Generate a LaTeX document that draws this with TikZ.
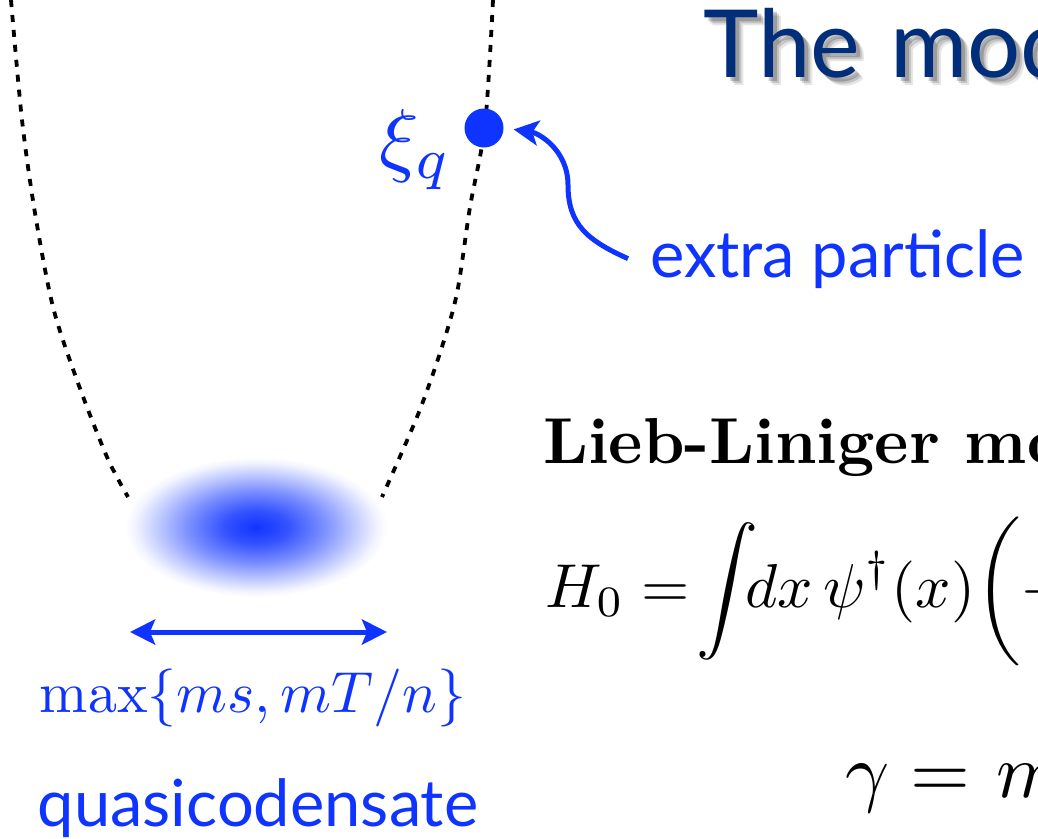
\documentclass[tikz,border=0pt]{standalone}
\usepackage{amsmath}
\usepackage{graphicx}
\usepackage{fontspec}
\setsansfont{Lato}
\newfontfamily\titlefont{Lato}[WordSpace=1.25]
\usetikzlibrary{arrows.meta, shapes.geometric}

\definecolor{qblue}{RGB}{16,52,255}
\definecolor{titleblue}{RGB}{0,46,122}
\pgfdeclareradialshading{blob}{\pgfpoint{0bp}{0bp}}{%
  color(0bp)=(qblue); color(6bp)=(qblue!85); color(13bp)=(qblue!55);
  color(19bp)=(qblue!25); color(23bp)=(qblue!6); color(25bp)=(white); color(50bp)=(white)}

\begin{document}
\begin{tikzpicture}[x=1pt, y=-1pt,
  well/.style={dash pattern=on 7pt off 8pt, line width=3.8pt},
  blue text/.style={text=qblue, inner sep=0pt},
  sans big/.style={font=\sffamily\fontsize{65}{72}\selectfont},
  title text/.style={font=\titlefont\fontsize{94}{102}\selectfont, inner sep=0pt, anchor=base west},
  curvy/.style={qblue, line width=5pt, -{Stealth[length=25pt, width=25pt, inset=6pt]}},
  widtharrow/.style={qblue, line width=5pt,
    {Stealth[length=25pt, width=25pt, inset=5pt]}-{Stealth[length=25pt, width=25pt, inset=5pt]}}]
  \useasboundingbox (0,0) rectangle (1038,838);
  \clip (0,0) rectangle (1038,838);
  % Titel med skygge
  \foreach \s/\o in {4/0.2, 6/0.15, 8/0.1}
    \node[title text, text=black, opacity=\o] (shadow\s) at (703+\s,77+\s) {The mod};
  \node[title text, text=titleblue] (title) at (703,77) {The mod};
  % Potensial (stiplet)
  \draw[well] plot[smooth] coordinates {(11,0) (22,120) (35,213) (53,307) (78,383) (107,457) (128,497)};
  \draw[well] plot[smooth] coordinates {(493,0) (485,125) (470,207) (457,293) (440,353) (417,417) (382,497)};
  % Kvasikondensat
  \node[ellipse, minimum width=262pt, minimum height=140pt, shading=blob] (cond) at (256,527) {};
  \coordinate (wl) at (130,632);
  \coordinate (wr) at (387,632);
  \draw[widtharrow] (wl) -- (wr);
  \node[blue text] (width) at (253,698) {\scalebox{5.8}{$\max\{ms, mT/n\}$}};
  \node[blue text, sans big, anchor=base] (qc) at (258,826) {quasicodensate};
  % Ekstra partikkel
  \node[circle, fill=qblue, minimum size=39pt, inner sep=0pt] (xidot) at (484,128) {};
  \node[blue text, anchor=base east] (xi) at (452,166) {\scalebox{8.2}{$\xi_q$}};
  \node[blue text, sans big, anchor=base west] (extra) at (650,277) {extra particle};
  \coordinate (bend) at (568,185);
  \draw[curvy, shorten >=10pt] ([xshift=-22pt]extra.west) .. controls +(-40,-18) and +(0,40) .. (bend)
    .. controls +(0,-35) and +(35,5) .. (xidot.east);
  % Modell
  \node[inner sep=0pt, anchor=base west] (ll) at (543,463) {\scalebox{6.5}{\bfseries Lieb-Liniger mo}};
  \node[inner sep=0pt, anchor=base west] (ham) at (545,607)
    {\scalebox{6.2}{$\displaystyle H_0 = \mkern-3mu \int \mkern-7mu dx\, \psi^\dagger(x)\biggl(-$}};
  \node[inner sep=0pt, anchor=base west] (gam) at (845,797) {\scalebox{7.7}{$\gamma = \mkern1mu m$}};
\end{tikzpicture}
\end{document}
